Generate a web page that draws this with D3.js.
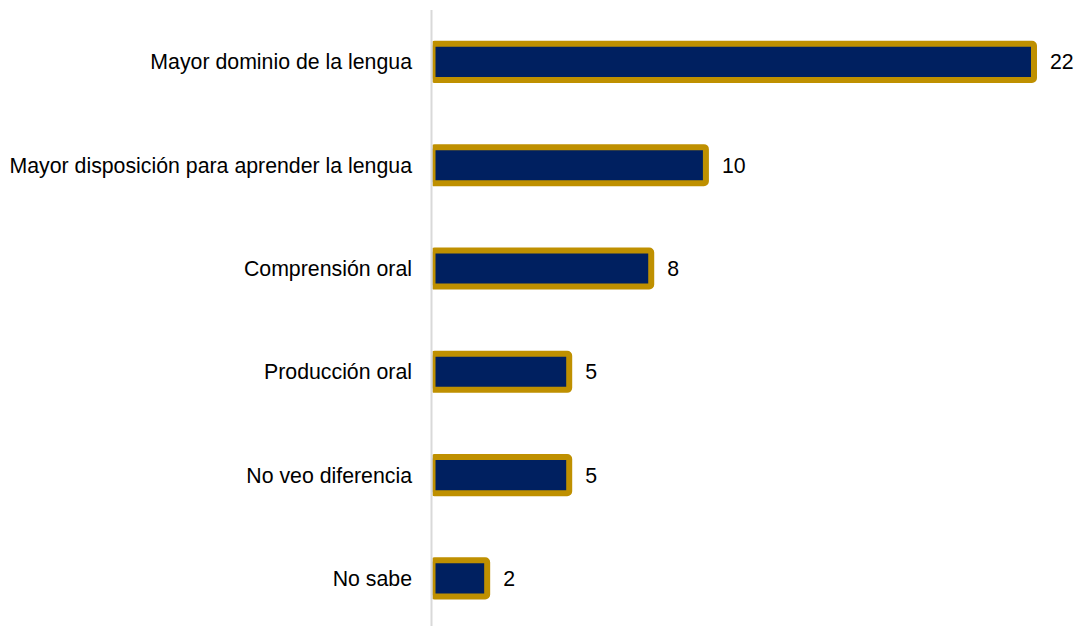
<!DOCTYPE html>
<html>
<head>
<meta charset="utf-8">
<script src="https://cdn.jsdelivr.net/npm/d3@7"></script>
<style>
  html, body { margin: 0; padding: 0; background: #ffffff; }
  svg { display: block; }
  text { font-family: "Liberation Sans", Arial, sans-serif; fill: #000000; }
</style>
</head>
<body>
<svg id="chart" width="1077" height="626"></svg>
<script>
// Categories, top to bottom
const categories = [
  "Mayor dominio de la lengua",
  "Mayor disposición para aprender la lengua",
  "Comprensión oral",
  "Producción oral",
  "No veo diferencia",
  "No sabe"
];
// Number of responses per category
const values = [22, 10, 8, 5, 5, 2];

const W = 1077, H = 626;
const x0 = 432.5;
const svg = d3.select("#chart");

const x = d3.scaleLinear().domain([0, 22]).range([x0, 1034]);
const y = d3.scaleBand().domain(categories).range([10.3, 630])
  .paddingInner(0.65).paddingOuter(0.325);

// Clip so the bar outline does not cross the axis on the left
svg.append("defs").append("clipPath").attr("id", "plot-clip")
  .append("rect").attr("x", x0).attr("y", 0).attr("width", W - x0).attr("height", H);

const data = categories.map((c, i) => ({ cat: c, val: values[i] }));

// Bars
svg.append("g").attr("clip-path", "url(#plot-clip)")
  .selectAll("rect").data(data).join("rect")
  .attr("x", x(0))
  .attr("y", d => y(d.cat))
  .attr("width", d => x(d.val) - x(0))
  .attr("height", y.bandwidth())
  .attr("rx", 2)
  .attr("fill", "#002060")
  .attr("stroke", "#BF9000")
  .attr("stroke-width", 6);

// Vertical axis line
svg.append("line")
  .attr("x1", 431.5).attr("x2", 431.5)
  .attr("y1", 10).attr("y2", H)
  .attr("stroke", "#d9d9d9").attr("stroke-width", 2);

// Category labels
svg.append("g").selectAll("text").data(data).join("text")
  .attr("x", 412)
  .attr("y", d => y(d.cat) + y.bandwidth() / 2)
  .attr("dy", "0.35em")
  .attr("text-anchor", "end")
  .attr("font-size", 21.3)
  .text(d => d.cat);

// Value labels
svg.append("g").selectAll("text").data(data).join("text")
  .attr("x", d => x(d.val) + 16)
  .attr("y", d => y(d.cat) + y.bandwidth() / 2)
  .attr("dy", "0.35em")
  .attr("font-size", 21.3)
  .text(d => d.val);
</script>
</body>
</html>
